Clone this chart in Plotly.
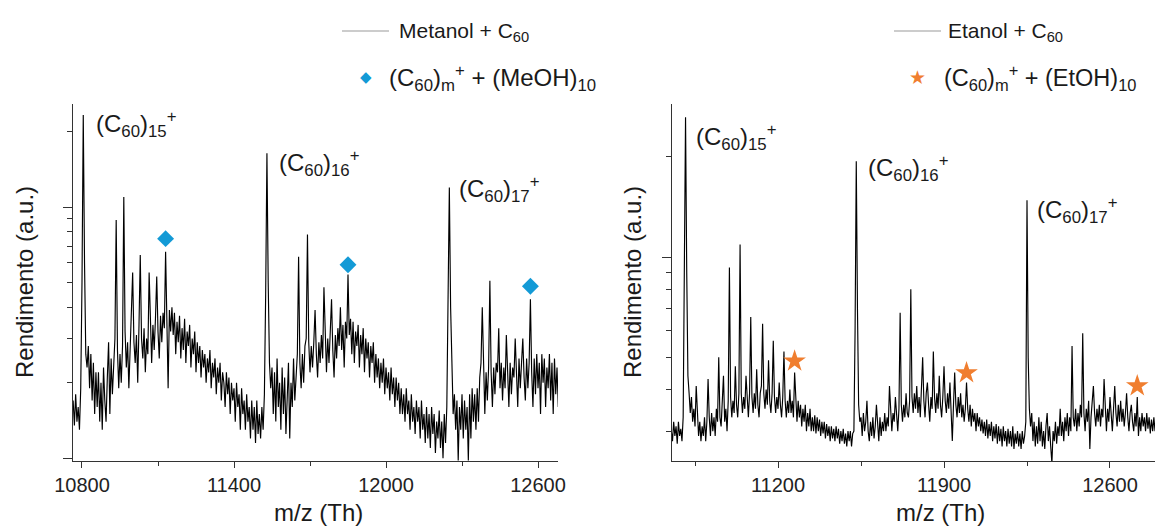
import plotly.graph_objects as go

W, H = 1157, 527

# m/z sampling of the two spectra (Th)
metanol_mz0, metanol_dmz = 10760, 5
etanol_mz0, etanol_dmz = 10750, 5

# Metanol + C60 spectrum, intensity (a.u.), one value every 5 Th from 10760 Th
metanol_rend = [
    # 10760
    1.5, 1.7, 1.35, 1.8, 1.4, 1.6, 1.3, 1.9, 5.0, 23.3, 6.0, 2.6, 2.3, 2.8, 1.9, 2.6, 1.7, 2.4, 1.5, 2.2,
    # 10860
    1.6, 2.2, 1.4, 2.0, 1.3, 2.3, 1.7, 1.4, 2.1, 2.9, 1.5, 2.5, 1.8, 2.2, 3.0, 8.9, 2.7, 1.9, 2.6, 2.0,
    # 10960
    2.8, 11.0, 3.2, 2.3, 2.9, 1.9, 2.7, 3.3, 5.5, 2.9, 2.4, 3.1, 2.0, 3.4, 6.45, 3.0, 2.5, 3.3, 2.2, 3.0,
    # 11060
    2.6, 5.5, 3.1, 2.4, 3.4, 2.7, 3.6, 5.3, 3.2, 2.5, 3.7, 2.9, 3.8, 3.3, 6.65, 3.4, 1.9, 3.9, 3.2, 4.0,
    # 11160
    3.1, 3.8, 2.6, 3.5, 2.9, 3.7, 2.5, 3.3, 2.7, 3.6, 2.4, 3.2, 2.8, 3.4, 2.3, 3.0, 2.6, 3.2, 2.2, 2.9,
    # 11260
    2.4, 2.8, 2.1, 2.7, 2.3, 2.6, 2.0, 2.5, 2.2, 2.7, 1.9, 2.4, 2.1, 2.5, 1.8, 2.3, 2.0, 2.4, 1.7, 2.2,
    # 11360
    2.0, 1.6, 2.2, 1.8, 2.1, 1.5, 2.0, 1.7, 1.9, 1.4, 2.0, 1.6, 1.8, 1.3, 1.9, 1.5, 1.7, 1.3, 1.8, 1.4,
    # 11460
    1.6, 1.2, 1.7, 1.3, 1.6, 1.15, 1.7, 1.25, 1.5, 1.2, 1.6, 1.3, 1.8, 4.5, 16.4, 5.0, 2.4, 1.9, 2.3, 1.5,
    # 11560
    2.2, 1.4, 2.5, 1.6, 2.0, 1.3, 2.3, 1.5, 2.1, 1.25, 1.9, 2.4, 1.2, 2.0, 1.6, 2.5, 1.7, 2.2, 2.6, 6.35,
    # 11660
    2.4, 1.9, 2.6, 2.0, 2.8, 3.0, 7.8, 2.9, 2.2, 2.8, 2.3, 2.9, 3.9, 2.6, 2.1, 2.9, 2.4, 3.1, 2.5, 4.8,
    # 11760
    2.9, 2.2, 3.0, 2.4, 3.2, 4.3, 2.7, 2.1, 3.1, 2.5, 3.3, 2.8, 4.0, 2.7, 3.4, 2.3, 3.5, 3.0, 5.4, 3.1,
    # 11860
    3.6, 2.6, 3.5, 2.4, 3.2, 2.8, 3.4, 2.3, 3.1, 2.6, 3.3, 2.2, 3.0, 2.5, 2.9, 2.1, 2.8, 2.4, 2.9, 2.0,
    # 11960
    2.6, 2.1, 2.5, 1.9, 2.4, 2.0, 2.5, 1.8, 2.3, 1.9, 2.2, 1.7, 2.3, 1.8, 2.1, 1.6, 2.1, 1.7, 2.0, 1.5,
    # 12060
    1.9, 1.5, 1.8, 1.4, 1.9, 1.5, 1.7, 1.3, 1.8, 1.4, 1.6, 1.25, 1.7, 1.4, 1.6, 1.2, 1.7, 1.3, 1.5, 1.15,
    # 12160
    1.6, 1.2, 1.5, 1.1, 1.6, 1.25, 1.5, 1.05, 1.4, 1.2, 1.55, 1.1, 1.4, 1.0, 1.5, 1.15, 1.6, 3.5, 12.0, 4.0,
    # 12260
    2.0, 1.5, 1.8, 1.3, 1.7, 0.98, 1.6, 1.3, 1.8, 1.2, 1.7, 1.3, 1.6, 0.98, 1.8, 1.2, 1.9, 1.4, 1.8, 1.3,
    # 12360
    1.9, 1.4, 2.1, 2.4, 4.0, 2.0, 1.5, 2.2, 1.7, 2.3, 5.1, 2.2, 1.6, 2.3, 1.8, 2.4, 2.2, 3.3, 1.9, 2.4,
    # 12460
    1.7, 2.3, 1.9, 3.1, 2.1, 1.6, 2.4, 1.8, 2.3, 2.1, 3.0, 2.0, 1.6, 2.5, 1.9, 2.4, 3.0, 2.1, 1.7, 2.5,
    # 12560
    1.9, 2.4, 4.3, 2.2, 1.6, 2.5, 1.8, 2.6, 1.9, 2.4, 1.5, 2.6, 2.0, 2.5, 1.6, 2.3, 1.9, 2.6, 1.7, 2.4,
    # 12660
    1.5, 2.5, 1.8, 2.3, 1.6,
]

# Etanol + C60 spectrum, intensity (a.u.), one value every 5 Th from 10750 Th
etanol_rend = [
    # 10750
    3.0, 2.8, 3.2, 2.9, 3.1, 2.75, 3.2, 2.9, 3.05, 2.8, 3.3, 8.0, 26.3, 9.0, 4.4, 3.9, 3.4, 3.8, 3.2, 3.5,
    # 10850
    3.1, 4.1, 3.3, 2.9, 3.2, 2.8, 3.1, 2.9, 3.3, 2.8, 3.2, 4.3, 3.3, 2.9, 3.4, 3.0, 3.3, 2.9, 3.5, 3.2,
    # 10950
    5.0, 3.3, 3.1, 3.6, 4.4, 3.2, 3.5, 3.0, 3.7, 9.3, 3.8, 3.3, 3.7, 3.4, 4.7, 3.6, 3.3, 3.9, 10.9, 3.9,
    # 11050
    3.4, 3.8, 3.5, 4.4, 3.6, 3.3, 3.9, 6.6, 3.8, 3.4, 3.9, 3.5, 4.6, 3.6, 3.3, 3.9, 4.1, 6.3, 3.9, 3.5,
    # 11150
    4.0, 3.6, 4.9, 3.7, 3.4, 3.9, 5.6, 3.8, 3.4, 3.8, 3.5, 4.2, 3.6, 3.3, 3.8, 5.2, 3.7, 3.3, 3.7, 3.4,
    # 11250
    4.0, 3.4, 3.7, 3.3, 4.5, 3.6, 3.2, 3.7, 3.3, 3.6, 3.1, 3.5, 3.2, 3.6, 3.0, 3.4, 3.1, 3.5, 3.0, 3.3,
    # 11350
    3.0, 3.35, 2.95, 3.3, 3.0, 3.25, 2.9, 3.2, 2.95, 3.2, 2.85, 3.15, 2.9, 3.1, 2.8, 3.1, 2.85, 3.05, 2.8, 3.1,
    # 11450
    2.85, 3.05, 2.75, 3.0, 2.8, 3.05, 2.75, 2.95, 2.7, 3.0, 2.8, 3.0, 2.7, 2.95, 3.0, 6.0, 19.4, 7.0, 3.6, 3.2,
    # 11550
    3.3, 2.9, 3.4, 3.0, 3.2, 3.7, 3.0, 2.8, 3.2, 2.9, 3.3, 2.85, 3.1, 3.6, 3.0, 2.8, 3.3, 2.9, 3.2, 3.0,
    # 11650
    3.4, 3.0, 3.3, 3.1, 4.1, 3.3, 3.0, 3.4, 3.2, 3.8, 3.2, 3.0, 3.5, 6.8, 3.6, 3.2, 3.6, 3.3, 3.9, 3.4,
    # 11750
    3.3, 3.7, 8.0, 3.8, 3.4, 3.9, 3.5, 4.1, 3.4, 3.8, 3.3, 3.9, 5.0, 3.7, 3.3, 3.9, 4.2, 3.6, 3.2, 3.8,
    # 11850
    3.5, 5.2, 3.8, 3.4, 3.9, 3.5, 4.4, 3.6, 3.3, 3.8, 4.7, 3.7, 3.4, 3.9, 3.5, 4.2, 3.4, 2.8, 3.6, 4.5,
    # 11950
    3.6, 3.3, 3.8, 3.4, 3.9, 3.3, 3.6, 3.2, 3.5, 4.2, 3.5, 3.2, 3.6, 3.1, 3.5, 3.2, 3.4, 3.0, 3.4, 3.1,
    # 12050
    3.3, 3.0, 3.25, 2.95, 3.2, 2.9, 3.25, 2.85, 3.15, 2.9, 3.2, 2.8, 3.1, 2.85, 3.15, 2.75, 3.1, 2.8, 3.05, 2.7,
    # 12150
    3.1, 2.8, 3.0, 2.7, 3.05, 2.75, 3.0, 2.7, 3.1, 2.65, 2.95, 2.75, 3.0, 2.7, 2.95, 2.65, 3.0, 2.75, 2.9, 3.2,
    # 12250
    14.8, 5.0, 3.5, 3.1, 3.4, 2.8, 3.2, 2.7, 3.1, 2.75, 3.3, 2.8, 3.2, 2.7, 3.0, 2.65, 3.1, 3.4, 2.8, 3.1,
    # 12350
    2.7, 2.4, 3.0, 2.8, 3.2, 2.75, 3.1, 2.9, 3.5, 2.9, 3.2, 2.8, 3.3, 3.0, 3.4, 2.9, 3.3, 3.0, 5.4, 3.3,
    # 12450
    3.1, 3.5, 3.0, 3.4, 3.1, 3.6, 3.3, 5.9, 3.4, 3.0, 3.5, 3.2, 3.7, 2.65, 3.3, 3.6, 4.1, 3.4, 3.1, 3.5,
    # 12550
    3.2, 3.6, 3.1, 3.5, 3.3, 4.3, 3.4, 3.0, 3.5, 3.2, 3.8, 3.3, 3.0, 3.5, 4.1, 3.4, 3.1, 3.6, 3.2, 3.7,
    # 12650
    3.2, 3.5, 3.1, 3.4, 3.9, 3.3, 3.0, 3.4, 3.6, 3.2, 3.0, 3.4, 3.1, 3.8, 2.9, 3.3, 3.0, 3.4, 3.1, 3.3,
    # 12750
    3.0, 3.4, 3.05, 3.3, 2.95, 3.25, 3.0, 3.3, 3.0, 3.2,
]

# (C60)m+ + (MeOH)10 and (C60)m+ + (EtOH)10 peaks
metanol_mark_mz = [11130, 11850, 12570]
metanol_mark_rend = [7.5, 5.9, 4.85]
etanol_mark_mz = [11270, 11995, 12715]
etanol_mark_rend = [4.87, 4.49, 4.10]

# axis ticks
metanol_ticks = [10800, 11400, 12000, 12600]
metanol_minor = [11100, 11700, 12300]
etanol_ticks = [11200, 11900, 12600]
etanol_minor = [10850, 11550, 12250]

metanol_mz = [metanol_mz0 + i * metanol_dmz for i in range(len(metanol_rend))]
etanol_mz = [etanol_mz0 + i * etanol_dmz for i in range(len(etanol_rend))]

FONT = "Arial, Liberation Sans, sans-serif"
INK = "#000000"
AXC = "#333333"
BLUE = "#139ad6"
ORANGE = "#f07e2f"


def px(x):
    return x / W


def py(y):
    return 1 - y / H


fig = go.Figure()
fig.add_trace(go.Scatter(x=metanol_mz, y=metanol_rend, mode="lines",
                         line=dict(color=INK, width=1.15), xaxis="x", yaxis="y"))
fig.add_trace(go.Scatter(x=metanol_mark_mz, y=metanol_mark_rend, mode="markers",
                         marker=dict(symbol="diamond", size=13, color=BLUE),
                         xaxis="x", yaxis="y"))
fig.add_trace(go.Scatter(x=etanol_mz, y=etanol_rend, mode="lines",
                         line=dict(color=INK, width=1.15), xaxis="x2", yaxis="y2"))
fig.add_trace(go.Scatter(x=etanol_mark_mz, y=etanol_mark_rend, mode="markers",
                         marker=dict(symbol="star", size=17, color=ORANGE),
                         xaxis="x2", yaxis="y2"))

ydom = [py(461), py(104)]

xcommon = dict(showline=True, linecolor=AXC, linewidth=1.2, ticks="outside",
               ticklen=6, tickwidth=1, tickcolor=AXC, showgrid=False, zeroline=False,
               automargin=False,
               tickfont=dict(family=FONT, size=20, color="#222"))
ycommon = dict(type="log", showline=True, linecolor=AXC, linewidth=1.2, ticks="outside",
               ticklen=9, tickwidth=1, tickcolor=AXC, showgrid=False, zeroline=False,
               automargin=False, showticklabels=False)

fig.update_layout(
    width=W, height=H,
    margin=dict(l=0, r=0, t=0, b=0, autoexpand=False),
    paper_bgcolor="white", plot_bgcolor="white",
    showlegend=False,
    xaxis=dict(domain=[px(73), px(558)], range=[10764.5, 12678.9], anchor="y",
               tickvals=metanol_ticks, ticktext=[str(v) for v in metanol_ticks],
               minor=dict(tickvals=metanol_minor, ticks="outside", ticklen=4,
                          tickcolor=AXC, showgrid=False),
               **xcommon),
    yaxis=dict(domain=ydom, range=[-0.0108, 1.4116], anchor="x",
               tickvals=[1, 10],
               minor=dict(tickvals=[2, 3, 4, 5, 6, 7, 8, 9, 20], ticks="outside",
                          ticklen=5, tickcolor=AXC, showgrid=False),
               **ycommon),
    xaxis2=dict(domain=[px(672), px(1155)], range=[10752.9, 12789.8], anchor="y2",
                tickvals=etanol_ticks, ticktext=[str(v) for v in etanol_ticks],
                minor=dict(tickvals=etanol_minor, ticks="outside", ticklen=4,
                           tickcolor=AXC, showgrid=False),
                **xcommon),
    yaxis2=dict(domain=ydom, range=[0.3874, 1.4595], anchor="x2",
                tickvals=[10],
                minor=dict(tickvals=[3, 4, 5, 6, 7, 8, 9, 20], ticks="outside",
                           ticklen=5, tickcolor=AXC, showgrid=False),
                **ycommon),
)

ann = []


def text(x, y, s, size, xanchor="left", angle=0, color="#1a1a1a", family=FONT):
    ann.append(dict(x=px(x), y=py(y), xref="paper", yref="paper", text=s,
                    showarrow=False, xanchor=xanchor, yanchor="middle",
                    textangle=angle, font=dict(family=family, size=size, color=color)))


# axis titles
text(318, 512, "m/z (Th)", 24, xanchor="center")
text(940, 512, "m/z (Th)", 24, xanchor="center")
text(24, 282, "Rendimento (a.u.)", 24, xanchor="center", angle=-90)
text(632, 282, "Rendimento (a.u.)", 24, xanchor="center", angle=-90)

# cluster labels
lab = "(C<sub>60</sub>)<sub>{}</sub><sup>+</sup>"
text(94, 124, lab.format(15), 24)
text(277, 163, lab.format(16), 24)
text(457, 189, lab.format(17), 24)
text(694, 137, lab.format(15), 24)
text(866, 168, lab.format(16), 24)
text(1035, 210, lab.format(17), 24)

# legends
text(397, 32, "Metanol + C<sub>60</sub>", 21)
text(387, 78, "(C<sub>60</sub>)<sub>m</sub><sup>+</sup> + (MeOH)<sub>10</sub>", 24)
text(366, 77, "\u25c6", 15, xanchor="center", color=BLUE, family="DejaVu Sans")
text(946, 32, "Etanol + C<sub>60</sub>", 21)
text(942, 78, "(C<sub>60</sub>)<sub>m</sub><sup>+</sup> + (EtOH)<sub>10</sub>", 23.5)
text(917, 77, "\u2605", 19, xanchor="center", color=ORANGE, family="DejaVu Sans")

fig.update_layout(annotations=ann)

for x0, x1 in [(342, 389), (894, 941)]:
    fig.add_shape(type="line", xref="paper", yref="paper",
                  x0=px(x0), x1=px(x1), y0=py(31), y1=py(31),
                  line=dict(color="#999999", width=1.2))

fig.write_html("out.html")
